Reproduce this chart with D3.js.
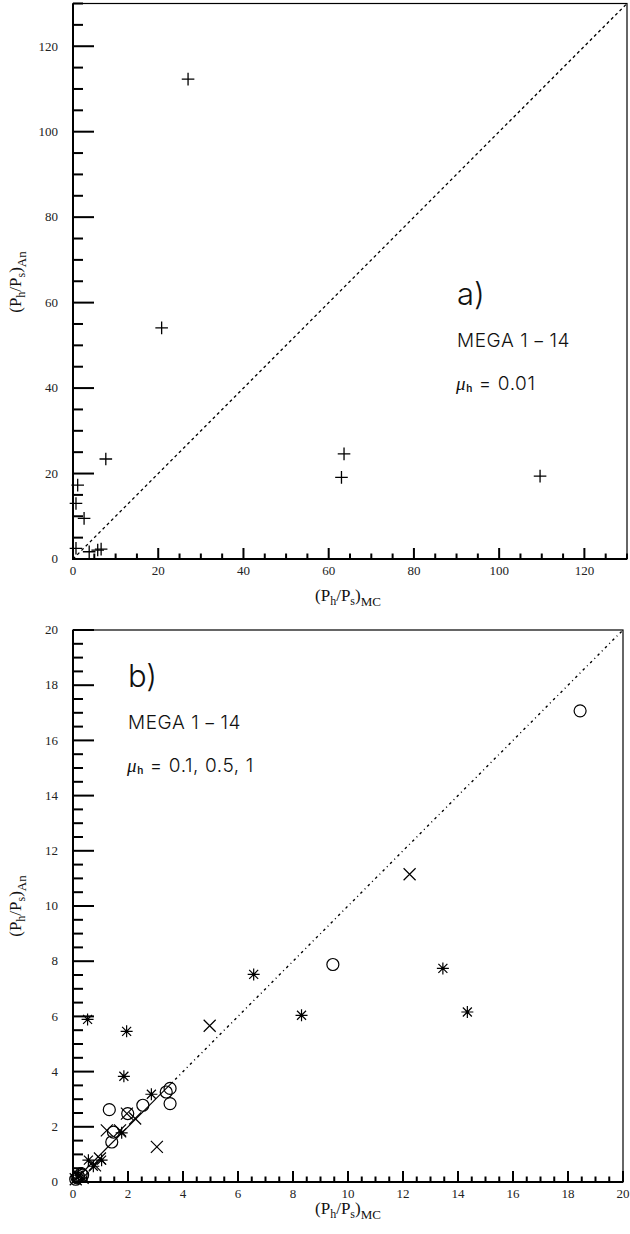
<!DOCTYPE html>
<html>
<head>
<meta charset="utf-8">
<script src="https://cdn.jsdelivr.net/npm/d3@7"></script>
<style>
  body { margin: 0; background: #fff; }
</style>
</head>
<body>
<div id="chart"></div>
<script>
const svgWidth = 630;
const svgHeight = 1234;

// Panel a) : mu_h = 0.01
const aMC = [27.0, 20.8, 7.7, 1.1, 0.7, 2.6, 0.7, 3.8, 5.8, 6.6, 63.6, 63.0, 109.6];
const aAn = [112.3, 54.1, 23.4, 17.3, 13.0, 9.5, 2.5, 1.7, 2.1, 2.3, 24.6, 19.1, 19.4];
const aMajor = [0, 20, 40, 60, 80, 100, 120];
const aDomain = [0, 130];

// Panel b) : mu_h = 0.1 (circles), 0.5 (crosses), 1 (stars)
const circMC = [18.44, 9.45, 3.39, 3.53, 3.53, 2.54, 1.99, 1.32, 1.47, 1.41, 0.3, 0.2, 0.15, 0.1, 0.35];
const circAn = [17.07, 7.88, 3.26, 3.39, 2.84, 2.78, 2.48, 2.62, 1.81, 1.45, 0.3, 0.2, 0.15, 0.1, 0.25];
const crossMC = [12.24, 4.97, 3.05, 1.23, 1.71, 2.26, 1.96, 0.98, 0.8, 0.2, 0.35, 0.1];
const crossAn = [11.15, 5.66, 1.27, 1.87, 1.87, 2.3, 2.48, 0.85, 0.6, 0.2, 0.15, 0.1];
const starMC = [0.53, 1.95, 1.85, 2.85, 6.57, 8.31, 13.45, 14.34, 0.56, 0.74, 1.04, 1.77, 0.2];
const starAn = [5.89, 5.46, 3.83, 3.18, 7.52, 6.04, 7.74, 6.16, 0.79, 0.57, 0.79, 1.78, 0.25];
const bMajor = [0, 2, 4, 6, 8, 10, 12, 14, 16, 18, 20];
const bDomain = [0, 20];
const bSolidEnd = 3.6;

const serif = "'Liberation Serif', 'Times New Roman', serif";
const sans = "Inter, 'DejaVu Sans', 'Liberation Sans', sans-serif";

let svg = d3.select("#chart").append("svg")
  .attr("width", svgWidth)
  .attr("height", svgHeight);

function minorTicks(domain, step, major) {
  let ticks = d3.range(domain[0], domain[1] + step / 2, step).map(v => +v.toFixed(3));
  return ticks.filter(v => !major.includes(v));
}

function addTicks(g, values, x, y, box, yLen, xLen) {
  // left axis ticks pointing right
  g.selectAll(null)
    .data(values)
    .enter()
    .append("rect")
    .attr("x", box.left)
    .attr("y", d => y(d) - 1)
    .attr("width", yLen)
    .attr("height", 2)
    .attr("fill", "#000");
  // bottom axis ticks pointing up
  g.selectAll(null)
    .data(values)
    .enter()
    .append("rect")
    .attr("x", d => x(d) - 1)
    .attr("y", box.bottom - xLen)
    .attr("width", 2)
    .attr("height", xLen)
    .attr("fill", "#000");
}

function createPanel(box, domain, major, minorStep) {
  let x = d3.scaleLinear().domain(domain).range([box.left, box.right]);
  let y = d3.scaleLinear().domain(domain).range([box.bottom, box.top]);
  let g = svg.append("g");

  addTicks(g, minorTicks(domain, minorStep, major), x, y, box, 10, 5.5);
  addTicks(g, major, x, y, box, 21, 11);

  // tick labels
  g.selectAll(null)
    .data(major)
    .enter()
    .append("text")
    .attr("x", box.left - 15)
    .attr("y", d => y(d))
    .attr("dy", "0.33em")
    .attr("text-anchor", "end")
    .style("font-family", serif).style("font-size", "13px")
    .attr("fill", "#222")
    .text(d => d);
  g.selectAll(null)
    .data(major)
    .enter()
    .append("text")
    .attr("x", d => x(d))
    .attr("y", box.bottom + 16)
    .attr("text-anchor", "middle")
    .style("font-family", serif).style("font-size", "13px")
    .attr("fill", "#222")
    .text(d => d);

  // frame
  g.append("rect")
    .attr("x", box.left).attr("y", box.top)
    .attr("width", box.right - box.left).attr("height", box.bottom - box.top)
    .attr("fill", "none").attr("stroke", "#000").attr("stroke-width", 1.2);
  g.append("path")
    .attr("d", `M${box.left},${box.top}V${box.bottom}H${box.right}`)
    .attr("fill", "none").attr("stroke", "#000").attr("stroke-width", 2);

  return { x, y, g };
}

function axisTitle(g, tx, ty, rotate, sub) {
  let t = g.append("text")
    .attr("transform", `translate(${tx},${ty}) rotate(${rotate})`)
    .attr("text-anchor", "middle")
    .style("font-family", serif)
    .style("font-size", "17px")
    .attr("fill", "#111");
  t.append("tspan").text("(P");
  t.append("tspan").attr("dy", 4).style("font-size", "12px").text("h");
  t.append("tspan").attr("dy", -4).text("/P");
  t.append("tspan").attr("dy", 4).style("font-size", "12px").text("s");
  t.append("tspan").attr("dy", -4).text(")");
  t.append("tspan").attr("dy", 5).style("font-size", "13px").text(sub);
}

function annotate(g, ax, ay, letter, muText) {
  g.append("text")
    .attr("x", ax).attr("y", ay)
    .style("font-family", sans).style("font-weight", 300)
    .style("font-size", "31px").attr("fill", "#111")
    .text(letter + ")");
  g.append("text")
    .attr("x", ax).attr("y", ay + 42)
    .style("font-family", sans).style("font-weight", 300)
    .style("font-size", "19px").attr("fill", "#111")
    .attr("letter-spacing", "0.6px")
    .text("MEGA 1\u2009\u2212\u200914");
  let mu = g.append("text")
    .attr("x", ax - 1).attr("y", ay + 85)
    .style("font-family", sans).style("font-weight", 300)
    .style("font-size", "19px").attr("fill", "#111")
    .attr("letter-spacing", "0.6px");
  mu.append("tspan").style("font-family", serif).style("font-style", "italic").text("\u03bc");
  mu.append("tspan").attr("dy", 2).style("font-size", "10px").style("font-weight", 600).text("h");
  mu.append("tspan").attr("dy", -2).text(" = " + muText);
}

// ---------- Panel a ----------
let pa = createPanel({ left: 73, right: 627, top: 3.5, bottom: 559 }, aDomain, aMajor, 5);

pa.g.append("line")
  .attr("x1", pa.x(aDomain[0])).attr("y1", pa.y(aDomain[0]))
  .attr("x2", pa.x(aDomain[1])).attr("y2", pa.y(aDomain[1]))
  .attr("stroke", "#000").attr("stroke-width", 1.3)
  .attr("stroke-dasharray", "3,3");

pa.g.selectAll(".plus")
  .data(d3.zip(aMC, aAn))
  .enter()
  .append("path")
  .attr("class", "plus")
  .attr("d", d => {
    let cx = pa.x(d[0]), cy = pa.y(d[1]), s = 6.3;
    return `M${cx - s},${cy}H${cx + s}M${cx},${cy - s}V${cy + s}`;
  })
  .attr("stroke", "#000").attr("stroke-width", 1.3).attr("fill", "none");

axisTitle(pa.g, 348, 601, 0, "MC");
axisTitle(pa.g, 21, 282, -90, "An");
annotate(pa.g, 457, 305, "a", "0.01");

// ---------- Panel b ----------
let pb = createPanel({ left: 73, right: 623, top: 630, bottom: 1182 }, bDomain, bMajor, 0.5);

pb.g.append("line")
  .attr("x1", pb.x(bDomain[0])).attr("y1", pb.y(bDomain[0]))
  .attr("x2", pb.x(bSolidEnd)).attr("y2", pb.y(bSolidEnd))
  .attr("stroke", "#000").attr("stroke-width", 1.1);
pb.g.append("line")
  .attr("x1", pb.x(bSolidEnd)).attr("y1", pb.y(bSolidEnd))
  .attr("x2", pb.x(bDomain[1])).attr("y2", pb.y(bDomain[1]))
  .attr("stroke", "#000").attr("stroke-width", 1.4)
  .attr("stroke-dasharray", "1,3.5,2.5,3.5");

// circles
pb.g.selectAll(".circ")
  .data(d3.zip(circMC, circAn))
  .enter()
  .append("circle")
  .attr("class", "circ")
  .attr("cx", d => pb.x(d[0])).attr("cy", d => pb.y(d[1]))
  .attr("r", 6)
  .attr("fill", "none").attr("stroke", "#000").attr("stroke-width", 1.2);

// crosses
pb.g.selectAll(".cross")
  .data(d3.zip(crossMC, crossAn))
  .enter()
  .append("path")
  .attr("class", "cross")
  .attr("d", d => {
    let cx = pb.x(d[0]), cy = pb.y(d[1]), s = 6;
    return `M${cx - s},${cy - s}L${cx + s},${cy + s}M${cx - s},${cy + s}L${cx + s},${cy - s}`;
  })
  .attr("stroke", "#000").attr("stroke-width", 1.2).attr("fill", "none");

// stars
let stars = pb.g.selectAll(".star")
  .data(d3.zip(starMC, starAn))
  .enter()
  .append("g")
  .attr("class", "star")
  .attr("transform", d => `translate(${pb.x(d[0])},${pb.y(d[1])})`);
stars.append("path")
  .attr("d", "M-6,0H6M0,-6V6M-4.5,-4.5L4.5,4.5M-4.5,4.5L4.5,-4.5")
  .attr("stroke", "#000").attr("stroke-width", 1.2).attr("fill", "none");
stars.append("circle").attr("r", 1.6).attr("fill", "#000");

axisTitle(pb.g, 348, 1214, 0, "MC");
axisTitle(pb.g, 21, 906, -90, "An");
annotate(pb.g, 128, 687, "b", "0.1, 0.5, 1");
</script>
</body>
</html>
